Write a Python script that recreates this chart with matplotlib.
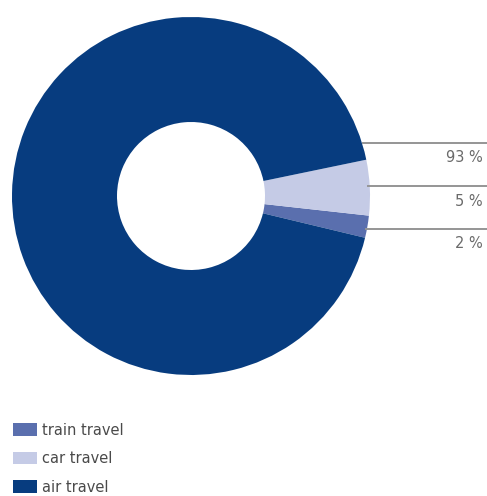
import matplotlib.pyplot as plt

labels = ["train travel", "car travel", "air travel"]
shares = [2, 5, 93]
colors = ["#5a6fae", "#c5cbe6", "#073c7f"]
pct_labels = ["93 %", "5 %", "2 %"]

W, H = 487, 496
fig = plt.figure(figsize=(W / 100, H / 100), dpi=100)
ax = fig.add_axes([0, 0, 1, 1])

cx, cy, r = 191, H - 196, 179
wedges, _ = ax.pie(shares, colors=colors, startangle=-13.5, counterclock=True,
                   center=(cx, cy), radius=r,
                   wedgeprops=dict(width=r - 74, linewidth=0))

# leader lines and percentage labels on the right
line_y = [143, 186, 229]
line_x0 = [363, 368, 366]
for y, x0, txt in zip(line_y, line_x0, pct_labels):
    ax.plot([x0, W], [H - y, H - y], color="#959595", lw=1.4)
    ax.text(483, H - y - 15, txt, ha="right", va="center",
            fontsize=10.5, color="#6a6a6a")

ax.legend(wedges, labels, loc="lower left", bbox_to_anchor=(0.023, 0.0),
          frameon=False, fontsize=10.5, labelcolor="#4a4a4a",
          handlelength=1.7, handleheight=0.95, handletextpad=0.3,
          labelspacing=0.92, borderaxespad=0.0, borderpad=0.1)

ax.set_xlim(0, W)
ax.set_ylim(0, H)
ax.set_aspect("equal")
ax.axis("off")
fig.savefig("out.png", dpi=100)
